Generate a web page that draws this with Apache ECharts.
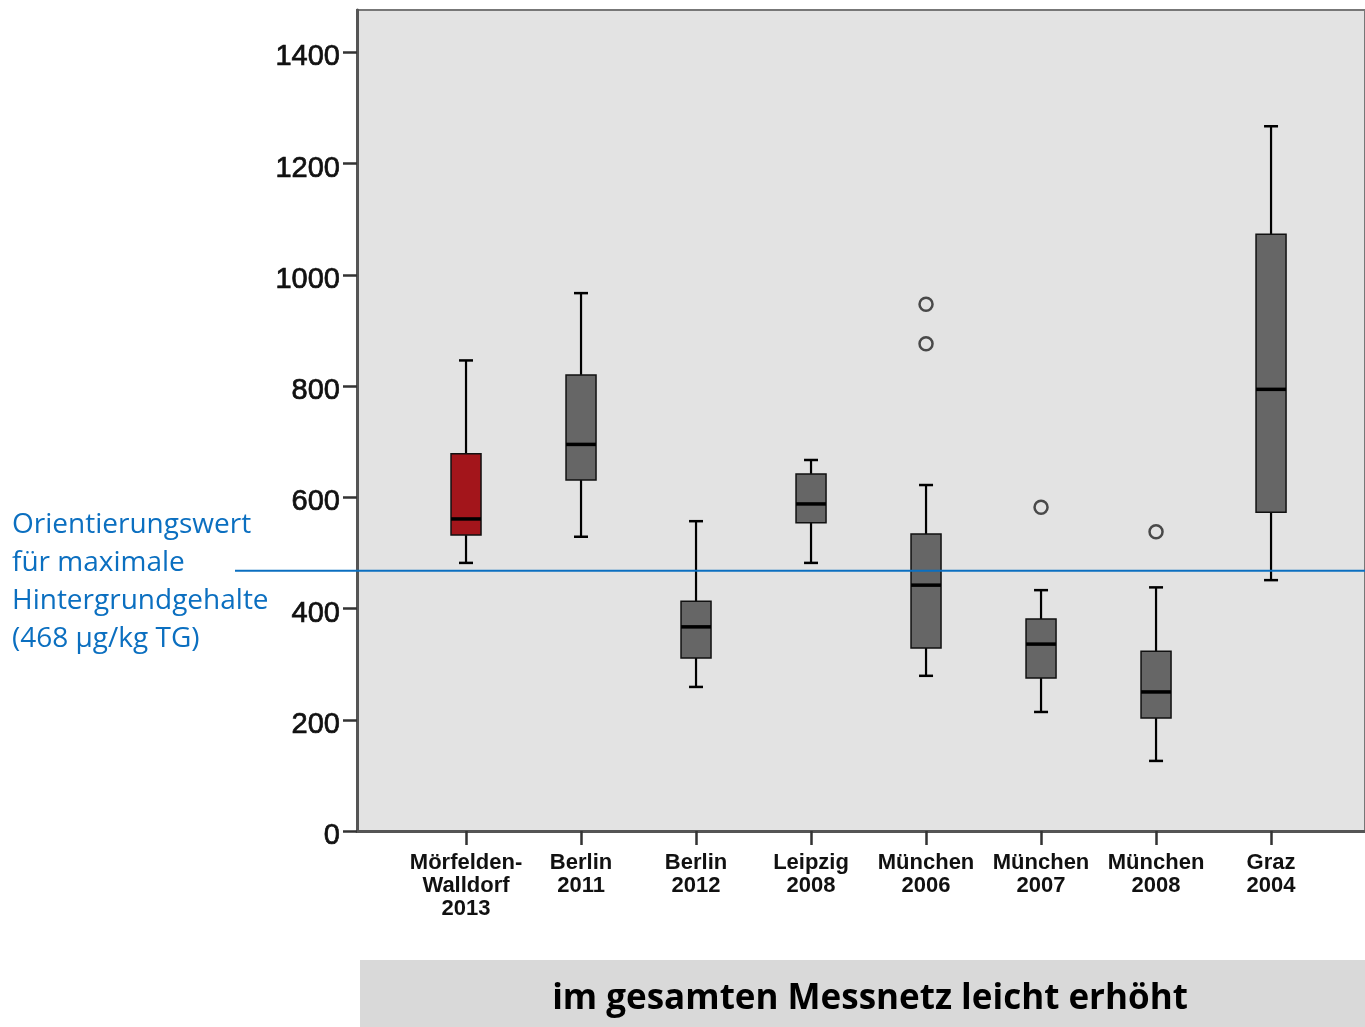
<!DOCTYPE html>
<html>
<head>
<meta charset="utf-8">
<script src="https://cdn.jsdelivr.net/npm/echarts@6/dist/echarts.min.js"></script>
<style>
html,body{margin:0;padding:0;background:#fff;}
#chart{width:1365px;height:1027px;}
</style>
</head>
<body>
<div id="chart"></div>
<script>
// ---- data ----
const categories = ['Mörfelden-\nWalldorf\n2013', 'Berlin\n2011', 'Berlin\n2012', 'Leipzig\n2008', 'München\n2006', 'München\n2007', 'München\n2008', 'Graz\n2004'];
const lowWhisker  = [482, 529, 259, 482, 279, 214, 126, 451];
const q1          = [532, 631, 311, 554, 329, 275, 203, 573];
const median      = [561, 695, 367, 588, 442, 336, 250, 794];
const q3          = [678, 820, 413, 642, 534, 381, 323, 1073];
const highWhisker = [846, 967, 557, 667, 622, 433, 438, 1267];
const outlierCategory = [4, 4, 5, 6];
const outlierValues   = [947, 876, 582, 538];
const yTicks = [0, 200, 400, 600, 800, 1000, 1200, 1400];
const referenceValue = 468;
const referenceText = ['Orientierungswert', 'für maximale', 'Hintergrundgehalte', '(468 µg/kg TG)'];
const bannerText = 'im gesamten Messnetz leicht erhöht';
const highlightIndex = 0;

// ---- build ----
const boxData = categories.map((c, i) => [i, lowWhisker[i], q1[i], median[i], q3[i], highWhisker[i]]);
const outlierData = outlierValues.map((v, i) => [outlierCategory[i], v]);
const catPositions = categories.map((c, i) => i);

const chart = echarts.init(document.getElementById('chart'));

function renderBox(params, api) {
  const x = api.value(0);
  const lo = api.coord([x, api.value(1)]);
  const b1 = api.coord([x, api.value(2)]);
  const md = api.coord([x, api.value(3)]);
  const b3 = api.coord([x, api.value(4)]);
  const hi = api.coord([x, api.value(5)]);
  const hw = 15, cw = 7;
  const cx = lo[0];
  const fill = params.dataIndex === highlightIndex ? '#a3151b' : '#666666';
  const ls = {stroke: '#000', lineWidth: 2.2};
  return {
    type: 'group',
    children: [
      {type: 'line', shape: {x1: cx, y1: lo[1], x2: cx, y2: b1[1]}, style: ls},
      {type: 'line', shape: {x1: cx, y1: b3[1], x2: cx, y2: hi[1]}, style: ls},
      {type: 'line', shape: {x1: cx - cw, y1: lo[1], x2: cx + cw, y2: lo[1]}, style: {stroke: '#000', lineWidth: 2.5}},
      {type: 'line', shape: {x1: cx - cw, y1: hi[1], x2: cx + cw, y2: hi[1]}, style: {stroke: '#000', lineWidth: 2.5}},
      {type: 'rect', shape: {x: cx - hw, y: b3[1], width: 2 * hw, height: b1[1] - b3[1]}, style: {fill: fill, stroke: '#111', lineWidth: 1.5}},
      {type: 'line', shape: {x1: cx - hw, y1: md[1], x2: cx + hw, y2: md[1]}, style: {stroke: '#000', lineWidth: 3.5}}
    ]
  };
}

const option = {
  animation: false,
  grid: [
    {left: 357, top: 10, bottom: 196, right: 0, show: true, backgroundColor: '#e3e3e3', borderColor: '#777', borderWidth: 2, containLabel: false},
    {left: 235, top: 10, bottom: 196, right: 0, show: false, containLabel: false}
  ],
  xAxis: [
    {
      type: 'value', gridIndex: 0, min: -0.948, max: 7.817,
      axisLine: {show: true, onZero: false, lineStyle: {color: '#555', width: 3}},
      axisTick: {show: true, length: 14, customValues: catPositions, lineStyle: {color: '#333', width: 2.5}},
      axisLabel: {
        customValues: catPositions,
        formatter: v => categories[Math.round(v)],
        margin: 20, verticalAlign: 'top',
        fontFamily: 'Liberation Sans', fontWeight: 'bold', fontSize: 22, lineHeight: 23, color: '#111'
      },
      splitLine: {show: false}
    },
    {type: 'value', gridIndex: 1, min: 0, max: 1, show: false}
  ],
  yAxis: [
    {
      type: 'value', gridIndex: 0, min: 0, max: 1476,
      axisLine: {show: true, onZero: false, lineStyle: {color: '#555', width: 3}},
      axisTick: {show: true, length: 14, customValues: yTicks, lineStyle: {color: '#333', width: 2.5}},
      axisLabel: {
        customValues: yTicks, margin: 17, formatter: v => String(v),
        verticalAlign: 'top', lineHeight: 10,
        fontFamily: 'Liberation Sans', fontSize: 29, color: '#111',
        textBorderColor: '#111', textBorderWidth: 0.7
      },
      splitLine: {show: false}
    },
    {type: 'value', gridIndex: 1, min: 0, max: 1476, show: false}
  ],
  series: [
    {
      type: 'custom', xAxisIndex: 0, yAxisIndex: 0,
      renderItem: renderBox,
      encode: {x: 0, y: [1, 2, 3, 4, 5]},
      data: boxData, z: 3
    },
    {
      type: 'scatter', xAxisIndex: 0, yAxisIndex: 0,
      data: outlierData, symbol: 'circle', symbolSize: 13,
      itemStyle: {color: 'rgba(0,0,0,0)', borderColor: '#222', borderWidth: 2.5}, z: 4
    },
    {
      type: 'line', xAxisIndex: 1, yAxisIndex: 1,
      data: [[0, referenceValue], [1, referenceValue]],
      symbol: 'none', lineStyle: {color: '#0b6fc0', width: 2}, z: 10
    }
  ],
  graphic: [
    {
      type: 'text', left: 12, top: 506,
      style: {text: referenceText.join('\n'), fill: '#0b6fc0', fontFamily: 'Open Sans', fontSize: 28, lineHeight: 38}
    },
    {
      type: 'rect', shape: {x: 360, y: 960, width: 1020, height: 80}, style: {fill: '#d9d9d9'}
    },
    {
      type: 'text', x: 870, y: 999,
      style: {text: bannerText, fill: '#000', fontFamily: 'Open Sans', fontWeight: 'bold', fontSize: 35, align: 'center', verticalAlign: 'middle'}
    }
  ]
};
chart.setOption(option);
</script>
</body>
</html>
